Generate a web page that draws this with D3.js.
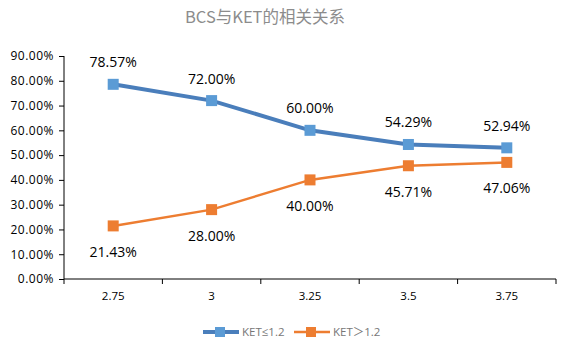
<!DOCTYPE html>
<html><head><meta charset="utf-8">
<script src="https://cdn.jsdelivr.net/npm/d3@7"></script>
<style>body{margin:0;background:#fff}svg{display:block}</style>
</head><body>
<script>
const categories = ["2.75","3","3.25","3.5","3.75"];
const seriesNames = ["KET≤1.2","KET＞1.2"];
const low = [78.57,72.00,60.00,54.29,52.94];
const high = [21.43,28.00,40.00,45.71,47.06];
const yTicks = [0,10,20,30,40,50,60,70,80,90];
const colors = ["#4a7ebb","#ed7d31"];
const markerColors = ["#5b9bd5","#ed7d31"];

const W=585,H=355;
const svg=d3.select("body").append("svg").attr("width",W).attr("height",H);
const font="'Open Sans', 'Liberation Sans', 'Noto Sans CJK SC', sans-serif";
const x=d3.scaleBand().domain(categories).range([64,556]);
const y=d3.scaleLinear().domain([0,90]).range([279,56]);

svg.append("text").attr("x",265).attr("y",23).attr("text-anchor","middle")
 .attr("font-family","'Noto Sans CJK SC', sans-serif").attr("font-size",16.5).attr("fill","#8c8c8c").text("BCS与KET的相关关系");

const ya=svg.append("g").attr("transform","translate(64,0)")
 .call(d3.axisLeft(y).tickValues(yTicks).tickSize(5).tickFormat(d=>d.toFixed(2)+"%"));
ya.select(".domain").attr("stroke","#000").attr("d","M0,56V279");
ya.selectAll(".tick line").attr("stroke","#000");
ya.selectAll("text").attr("font-family",font).attr("font-size",12).attr("letter-spacing",0.5).attr("fill","#000").attr("x",-10);

const xa=svg.append("g").attr("transform","translate(0,279)")
 .call(d3.axisBottom(x).tickSize(0).tickSizeOuter(0));
xa.select(".domain").attr("stroke","#000").attr("d","M64,0H556");
xa.selectAll(".tick line").remove();
xa.selectAll("text").attr("font-family",font).attr("font-size",11.5).attr("fill","#000").attr("dy","1.55em");
const bounds=[...categories.map(c=>x(c)),x(categories[categories.length-1])+x.bandwidth()];
svg.append("g").selectAll("line").data(bounds).join("line")
 .attr("x1",d=>d).attr("x2",d=>d).attr("y1",279).attr("y2",284).attr("stroke","#000");

const cx=c=>x(c)+x.bandwidth()/2;
const data=[low,high];
const widths=[4,2.5];
data.forEach((vals,i)=>{
  const line=d3.line().x((d,j)=>cx(categories[j])).y(d=>y(d));
  svg.append("path").datum(vals).attr("d",line).attr("fill","none")
   .attr("stroke",colors[i]).attr("stroke-width",widths[i]);
  svg.append("g").selectAll("rect").data(vals).join("rect")
   .attr("x",(d,j)=>cx(categories[j])-5.5).attr("y",d=>y(d)-5.5)
   .attr("width",11).attr("height",11).attr("fill",markerColors[i]);
  svg.append("g").selectAll("text").data(vals).join("text")
   .attr("x",(d,j)=>cx(categories[j])).attr("y",d=>i===0?y(d)-17:y(d)+31)
   .attr("text-anchor","middle").attr("font-family",font).attr("font-size",14).attr("fill","#000")
   .text(d=>d.toFixed(2)+"%");
});

const leg=[{x:203,tx:242},{x:294,tx:333}];
seriesNames.forEach((n,i)=>{
  const g=svg.append("g");
  g.append("line").attr("x1",leg[i].x).attr("x2",leg[i].x+36).attr("y1",332).attr("y2",332)
   .attr("stroke",colors[i]).attr("stroke-width",widths[i]);
  g.append("rect").attr("x",leg[i].x+12).attr("y",327).attr("width",10).attr("height",10).attr("fill",markerColors[i]);
  g.append("text").attr("x",leg[i].tx).attr("y",336).attr("font-family",font).attr("font-size",11.5)
   .attr("fill","#777").text(n);
});
</script>
</body></html>
